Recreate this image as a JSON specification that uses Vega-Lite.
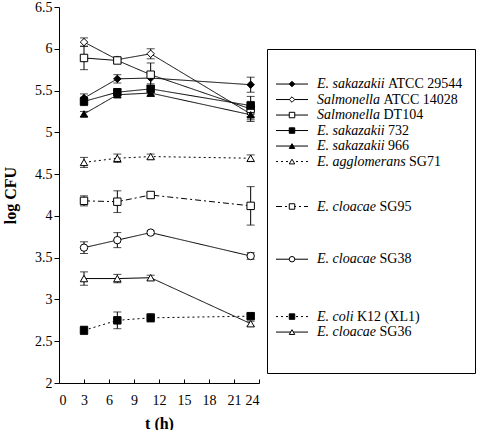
{
  "$schema": "https://vega.github.io/schema/vega-lite/v6.json",
  "padding": {"left": 2, "top": 0, "right": 0, "bottom": 0},
  "config": {
    "view": {"stroke": null},
    "font": "Liberation Serif",
    "axis": {"domainColor": "black", "tickColor": "black", "labelColor": "black", "titleColor": "black", "labelFont": "Liberation Serif", "titleFont": "Liberation Serif", "labelFontSize": 14, "titleFontSize": 16, "grid": false, "titleFontWeight": "bold"}
  },
  "datasets": {
    "obs": [
      {"s": "E. sakazakii ATCC 29544", "t": 3, "v": 5.41, "lo": 5.36, "hi": 5.46},
      {"s": "E. sakazakii ATCC 29544", "t": 7, "v": 5.64, "lo": 5.59, "hi": 5.69},
      {"s": "E. sakazakii ATCC 29544", "t": 11, "v": 5.65, "lo": 5.58, "hi": 5.72},
      {"s": "E. sakazakii ATCC 29544", "t": 23, "v": 5.57, "lo": 5.48, "hi": 5.66},
      {"s": "Salmonella ATCC 14028", "t": 3, "v": 6.08, "lo": 6.03, "hi": 6.13},
      {"s": "Salmonella ATCC 14028", "t": 7, "v": 5.87, "lo": 5.84, "hi": 5.9},
      {"s": "Salmonella ATCC 14028", "t": 11, "v": 5.94, "lo": 5.88, "hi": 6.0},
      {"s": "Salmonella ATCC 14028", "t": 23, "v": 5.22, "lo": 5.19, "hi": 5.25},
      {"s": "Salmonella DT104", "t": 3, "v": 5.89, "lo": 5.75, "hi": 6.03},
      {"s": "Salmonella DT104", "t": 7, "v": 5.86, "lo": 5.83, "hi": 5.89},
      {"s": "Salmonella DT104", "t": 11, "v": 5.69, "lo": 5.55, "hi": 5.83},
      {"s": "Salmonella DT104", "t": 23, "v": 5.28, "lo": 5.13, "hi": 5.43},
      {"s": "E. sakazakii 732", "t": 3, "v": 5.37, "lo": 5.32, "hi": 5.42},
      {"s": "E. sakazakii 732", "t": 7, "v": 5.48, "lo": 5.44, "hi": 5.52},
      {"s": "E. sakazakii 732", "t": 11, "v": 5.52, "lo": 5.48, "hi": 5.56},
      {"s": "E. sakazakii 732", "t": 23, "v": 5.32, "lo": 5.27, "hi": 5.37},
      {"s": "E. sakazakii 966", "t": 3, "v": 5.22, "lo": 5.19, "hi": 5.25},
      {"s": "E. sakazakii 966", "t": 7, "v": 5.45, "lo": 5.42, "hi": 5.48},
      {"s": "E. sakazakii 966", "t": 11, "v": 5.47, "lo": 5.43, "hi": 5.51},
      {"s": "E. sakazakii 966", "t": 23, "v": 5.21, "lo": 5.15, "hi": 5.27},
      {"s": "E. agglomerans SG71", "t": 3, "v": 4.64, "lo": 4.58, "hi": 4.7},
      {"s": "E. agglomerans SG71", "t": 7, "v": 4.69, "lo": 4.64, "hi": 4.74},
      {"s": "E. agglomerans SG71", "t": 11, "v": 4.71, "lo": 4.68, "hi": 4.74},
      {"s": "E. agglomerans SG71", "t": 23, "v": 4.69, "lo": 4.65, "hi": 4.73},
      {"s": "E. cloacae SG95", "t": 3, "v": 4.18, "lo": 4.12, "hi": 4.24},
      {"s": "E. cloacae SG95", "t": 7, "v": 4.17, "lo": 4.04, "hi": 4.3},
      {"s": "E. cloacae SG95", "t": 11, "v": 4.25, "lo": 4.22, "hi": 4.28},
      {"s": "E. cloacae SG95", "t": 23, "v": 4.12, "lo": 3.89, "hi": 4.35},
      {"s": "E. cloacae SG38", "t": 3, "v": 3.62, "lo": 3.55, "hi": 3.69},
      {"s": "E. cloacae SG38", "t": 7, "v": 3.71, "lo": 3.62, "hi": 3.8},
      {"s": "E. cloacae SG38", "t": 11, "v": 3.8, "lo": 3.78, "hi": 3.82},
      {"s": "E. cloacae SG38", "t": 23, "v": 3.52, "lo": 3.48, "hi": 3.56},
      {"s": "E. coli K12 (XL1)", "t": 3, "v": 2.63, "lo": 2.58, "hi": 2.68},
      {"s": "E. coli K12 (XL1)", "t": 7, "v": 2.75, "lo": 2.65, "hi": 2.85},
      {"s": "E. coli K12 (XL1)", "t": 11, "v": 2.78, "lo": 2.73, "hi": 2.83},
      {"s": "E. coli K12 (XL1)", "t": 23, "v": 2.8, "lo": 2.77, "hi": 2.83},
      {"s": "E. cloacae SG36", "t": 3, "v": 3.25, "lo": 3.17, "hi": 3.33},
      {"s": "E. cloacae SG36", "t": 7, "v": 3.25, "lo": 3.2, "hi": 3.3},
      {"s": "E. cloacae SG36", "t": 11, "v": 3.26, "lo": 3.23, "hi": 3.29},
      {"s": "E. cloacae SG36", "t": 23, "v": 2.71, "lo": 2.68, "hi": 2.74}
    ],
    "leg": [
      {"s": "E. sakazakii ATCC 29544", "genus": "E. sakazakii", "strain": "ATCC 29544", "row": 1},
      {"s": "Salmonella ATCC 14028", "genus": "Salmonella", "strain": "ATCC 14028", "row": 2},
      {"s": "Salmonella DT104", "genus": "Salmonella", "strain": "DT104", "row": 3},
      {"s": "E. sakazakii 732", "genus": "E. sakazakii", "strain": "732", "row": 4},
      {"s": "E. sakazakii 966", "genus": "E. sakazakii", "strain": "966", "row": 5},
      {"s": "E. agglomerans SG71", "genus": "E. agglomerans", "strain": "SG71", "row": 6},
      {"s": "E. cloacae SG95", "genus": "E. cloacae", "strain": "SG95", "row": 8.9},
      {"s": "E. cloacae SG38", "genus": "E. cloacae", "strain": "SG38", "row": 12.3},
      {"s": "E. coli K12 (XL1)", "genus": "E. coli", "strain": "K12 (XL1)", "row": 16},
      {"s": "E. cloacae SG36", "genus": "E. cloacae", "strain": "SG36", "row": 17}
    ]
  },
  "spacing": 6,
  "hconcat": [
    {
      "width": 200,
      "height": 376,
      "data": {"name": "obs"},
      "encoding": {
        "x": {"field": "t", "type": "quantitative", "scale": {"domain": [0, 24], "nice": false}, "axis": {"values": [0, 3, 6, 9, 12, 15, 18, 21, 24], "format": "d", "title": "t (h)", "tickSize": -4, "labelPadding": 14, "titlePadding": 8}}
      },
      "layer": [
        {
          "mark": {"type": "line", "color": "black", "strokeWidth": 1},
          "encoding": {
            "y": {"field": "v", "type": "quantitative", "scale": {"domain": [2, 6.5], "nice": false, "zero": false}, "axis": {"values": [2, 2.5, 3, 3.5, 4, 4.5, 5, 5.5, 6, 6.5], "format": "~g", "title": "log CFU", "tickSize": 5, "labelPadding": 2, "titlePadding": 16}},
            "strokeDash": {"field": "s", "type": "nominal", "legend": null, "scale": {"domain": ["E. sakazakii ATCC 29544", "Salmonella ATCC 14028", "Salmonella DT104", "E. sakazakii 732", "E. sakazakii 966", "E. agglomerans SG71", "E. cloacae SG95", "E. cloacae SG38", "E. coli K12 (XL1)", "E. cloacae SG36"], "range": [[1, 0], [1, 0], [1, 0], [1, 0], [1, 0], [2, 3], [6, 3, 2, 3], [1, 0], [2, 3], [1, 0]]}}
          }
        },
        {
          "mark": {"type": "rule", "color": "black", "strokeWidth": 1},
          "encoding": {"y": {"field": "lo", "type": "quantitative"}, "y2": {"field": "hi"}}
        },
        {
          "mark": {"type": "tick", "orient": "horizontal", "color": "black", "size": 8, "thickness": 1},
          "encoding": {"y": {"field": "lo", "type": "quantitative"}}
        },
        {
          "mark": {"type": "tick", "orient": "horizontal", "color": "black", "size": 8, "thickness": 1},
          "encoding": {"y": {"field": "hi", "type": "quantitative"}}
        },
        {
          "mark": {"type": "point", "opacity": 1, "stroke": "black", "strokeWidth": 1, "size": 55},
          "encoding": {
            "y": {"field": "v", "type": "quantitative"},
            "shape": {"field": "s", "type": "nominal", "legend": null, "scale": {"domain": ["E. sakazakii ATCC 29544", "Salmonella ATCC 14028", "Salmonella DT104", "E. sakazakii 732", "E. sakazakii 966", "E. agglomerans SG71", "E. cloacae SG95", "E. cloacae SG38", "E. coli K12 (XL1)", "E. cloacae SG36"], "range": ["diamond", "diamond", "square", "square", "triangle-up", "triangle-up", "square", "circle", "square", "triangle-up"]}},
            "fill": {"field": "s", "type": "nominal", "legend": null, "scale": {"domain": ["E. sakazakii ATCC 29544", "Salmonella ATCC 14028", "Salmonella DT104", "E. sakazakii 732", "E. sakazakii 966", "E. agglomerans SG71", "E. cloacae SG95", "E. cloacae SG38", "E. coli K12 (XL1)", "E. cloacae SG36"], "range": ["black", "white", "white", "black", "black", "white", "white", "white", "black", "white"]}}
          }
        }
      ]
    },
    {
      "spacing": 10,
      "vconcat": [
        {
          "width": 208,
          "height": 31,
          "data": {"values": [{"a": 1}]},
          "mark": {"type": "point", "opacity": 0},
          "encoding": {}
        },
        {
          "width": 208,
          "height": 324,
          "view": {"stroke": "black", "strokeWidth": 1},
          "data": {"name": "leg"},
          "encoding": {
            "y": {"field": "row", "type": "quantitative", "scale": {"domain": [-1.26, 19.64], "reverse": true, "nice": false, "zero": false}, "axis": null}
          },
          "layer": [
            {
              "mark": {"type": "rule", "color": "black", "strokeWidth": 1},
              "encoding": {
                "x": {"datum": 0.9, "type": "quantitative", "scale": {"domain": [0, 20.8], "nice": false, "zero": false}, "axis": null},
                "x2": {"datum": 4.1},
                "strokeDash": {"field": "s", "type": "nominal", "legend": null, "scale": {"domain": ["E. sakazakii ATCC 29544", "Salmonella ATCC 14028", "Salmonella DT104", "E. sakazakii 732", "E. sakazakii 966", "E. agglomerans SG71", "E. cloacae SG95", "E. cloacae SG38", "E. coli K12 (XL1)", "E. cloacae SG36"], "range": [[1, 0], [1, 0], [1, 0], [1, 0], [1, 0], [2, 3], [6, 3, 2, 3], [1, 0], [2, 3], [1, 0]]}}
              }
            },
            {
              "mark": {"type": "point", "opacity": 1, "stroke": "black", "strokeWidth": 1, "size": 30},
              "encoding": {
                "x": {"datum": 2.5, "type": "quantitative"},
                "shape": {"field": "s", "type": "nominal", "legend": null, "scale": {"domain": ["E. sakazakii ATCC 29544", "Salmonella ATCC 14028", "Salmonella DT104", "E. sakazakii 732", "E. sakazakii 966", "E. agglomerans SG71", "E. cloacae SG95", "E. cloacae SG38", "E. coli K12 (XL1)", "E. cloacae SG36"], "range": ["diamond", "diamond", "square", "square", "triangle-up", "triangle-up", "square", "circle", "square", "triangle-up"]}},
                "fill": {"field": "s", "type": "nominal", "legend": null, "scale": {"domain": ["E. sakazakii ATCC 29544", "Salmonella ATCC 14028", "Salmonella DT104", "E. sakazakii 732", "E. sakazakii 966", "E. agglomerans SG71", "E. cloacae SG95", "E. cloacae SG38", "E. coli K12 (XL1)", "E. cloacae SG36"], "range": ["black", "white", "white", "black", "black", "white", "white", "white", "black", "white"]}}
              }
            },
            {
              "mark": {"type": "text", "align": "left", "baseline": "middle", "fontStyle": "italic", "fontSize": 14, "font": "Liberation Serif", "color": "black"},
              "encoding": {"x": {"datum": 5, "type": "quantitative"}, "text": {"field": "genus"}}
            },
            {
              "transform": [{"filter": "datum.genus == 'E. sakazakii'"}],
              "mark": {"type": "text", "align": "left", "baseline": "middle", "fontSize": 14, "font": "Liberation Serif", "color": "black", "dx": 71},
              "encoding": {"x": {"datum": 5, "type": "quantitative"}, "text": {"field": "strain"}}
            },
            {
              "transform": [{"filter": "datum.genus == 'Salmonella'"}],
              "mark": {"type": "text", "align": "left", "baseline": "middle", "fontSize": 14, "font": "Liberation Serif", "color": "black", "dx": 66.5},
              "encoding": {"x": {"datum": 5, "type": "quantitative"}, "text": {"field": "strain"}}
            },
            {
              "transform": [{"filter": "datum.genus == 'E. agglomerans'"}],
              "mark": {"type": "text", "align": "left", "baseline": "middle", "fontSize": 14, "font": "Liberation Serif", "color": "black", "dx": 92},
              "encoding": {"x": {"datum": 5, "type": "quantitative"}, "text": {"field": "strain"}}
            },
            {
              "transform": [{"filter": "datum.genus == 'E. cloacae'"}],
              "mark": {"type": "text", "align": "left", "baseline": "middle", "fontSize": 14, "font": "Liberation Serif", "color": "black", "dx": 62.5},
              "encoding": {"x": {"datum": 5, "type": "quantitative"}, "text": {"field": "strain"}}
            },
            {
              "transform": [{"filter": "datum.genus == 'E. coli'"}],
              "mark": {"type": "text", "align": "left", "baseline": "middle", "fontSize": 14, "font": "Liberation Serif", "color": "black", "dx": 40},
              "encoding": {"x": {"datum": 5, "type": "quantitative"}, "text": {"field": "strain"}}
            }
          ]
        }
      ]
    }
  ]
}
